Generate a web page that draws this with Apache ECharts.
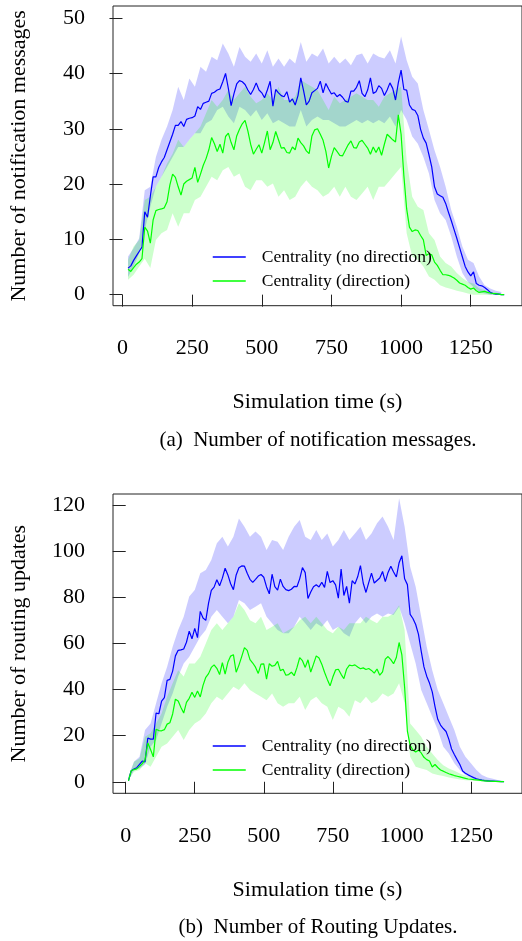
<!DOCTYPE html>
<html lang="en">
<head>
<meta charset="UTF-8">
<title>Notification messages and routing updates</title>
<style>
  body { margin: 0; overflow: hidden; background: #fff; }
  #chart { width: 522px; height: 941px; }
</style>
</head>
<body>
<div id="chart"></div>
<script src="https://cdn.jsdelivr.net/npm/echarts@6/dist/echarts.min.js"></script>
<script>
// evenly spaced sampling times (s)
function steps(from, to, by) {
    var a = [];
    for (var t = from; t <= to; t += by) a.push(t);
    return a;
}

var seriesNames = ['Centrality (no direction)', 'Centrality (direction)'];

// ---- (a) notification messages ----
var timeA = steps(20, 1370, 10);
var blueA = [4.8,5.2,6.2,7.0,7.8,8.6,15.0,14.0,17.8,21.3,
    21.3,23,24,24.8,26.2,27.6,29,30.6,30.6,31.3,
    30.4,31.7,31.9,32,32.3,34,33.5,34.6,34.8,35,
    36.4,36.6,37,37.2,38.5,40,37.3,34.2,36.3,38.1,
    38.7,38.5,38,37,36.2,37.1,38.3,37,36.5,35.6,
    37,38.6,34.1,37.1,36.5,36,35.8,36.7,34.8,35.4,
    34.3,36,39.2,36.9,34.3,35,36.5,36.9,37.3,38.6,
    36.5,38.2,37.2,36.3,36.5,35.8,36.2,35.7,35,34.8,
    36.8,36.8,37.5,38.7,36.4,35.8,37,39.2,36.4,36.7,
    37.8,37.3,36,37,38.3,37.3,35.2,38.3,40.6,37.1,
    37,34.3,33.5,33.3,32.4,29.9,28.3,27.4,25.3,23.1,
    19.5,18.2,17.9,17.6,16.5,14.9,13.4,11.8,10.2,8.5,
    6.8,5.1,4.1,3.4,4.1,2,1.7,1.6,1.3,0.9,
    0.4,0.2,0.1,0.1,0,0];
var greenA = [4.6,4.2,4.9,5.5,5.9,6.5,12.2,11.5,9.3,13.5,
    15.2,15.4,15.5,15.7,16.8,19.8,21.8,21.2,19.5,18,
    20,20.5,20.8,21.1,23,20.3,21.8,23.4,24.6,26.2,
    28.4,27.3,25.9,27.2,25.6,28.6,29.2,27.5,26.2,28.7,
    29.9,30.9,31.5,29.6,27.2,25.4,26.3,27.1,25.6,27.5,
    29.6,26.2,27.5,29.5,28,26.5,26.6,25.7,25.6,26.7,
    26.2,28.3,27.5,26.9,26,25.5,28.7,29.8,30,29,
    27.9,25.9,22.9,25,26.6,25.9,25.2,25.1,26.1,27.1,
    27.8,26.6,26.5,27.6,27.9,27.2,26.5,25.4,26.7,25.7,
    26.7,25.2,27.2,29,28.5,28,27.6,32.5,29,21.5,
    15.5,12.2,11.4,11.7,11.6,10.7,9.9,7.1,7.4,7.2,
    5.9,5.3,4.4,3.6,3.6,3.5,3.3,3,2.6,2.1,
    1.9,1.7,1.3,1,1.2,0.7,0.4,0.5,0.6,0.4,
    0.3,0.2,0.2,0.1,0,0];
var bandTimeA = steps(20, 1360, 20);
var blueHiA = [6.9,8.4,10.2,18.9,19.5, 24.9,28,30.4,33.4,37.6, 35.2,39.1,37.6,41.2,40.3,
    43,42.4,45.4,43.6,41.2, 44.8,43,42.1,43.6,41.8, 44.2,41.2,42.7,41.2,42.7,
    41.8,45.7,42.1,43.6,43, 44.5,41.8,43,41.8,42.7, 41.5,43.3,43.6,41.8,43.6,
    43,42.7,44.2,41.8,46.7, 42.4,39.4,38.2,33.4,29.8, 26.1,23.1,19.5,15.3,12.3,
    8.7,6.3,5.7,3.3,1.7, 1.1,0.7,0.5];
var blueLoA = [3.2,5.1,7.5,11.7,15.9, 19.5,21.3,23.1,24.9,26.7, 26.7,28,29.2,29.2,31,
    31.6,33.4,34,32.2,31, 34,33.4,32.2,33.4,31.6, 32.8,31,31.6,31,30.4,
    30.4,33.4,30.4,31.6,32.2, 31.6,31.6,31,30.4,30.4, 31,31.6,31,31.6,31,
    31.6,31,32.2,30.4,33.4, 31.6,28.6,27.3,24.9,21.9, 17.1,14.7,13.5,10.5,6.9,
    3.9,2.3,1.4,0.5,0.2, 0,0,0];
var greenHiA = [6.3,8.7,9.9,17.1,17.7, 19.5,21.3,23.7,25.5,28, 26.7,28,29.2,30.4,32.8,
    35.2,34,35.2,37,35.2, 36.4,37.6,35.8,34.6,35.2, 36.4,35.2,37.6,35.2,35.2,
    35.8,38.8,38.2,37.6,37, 35.2,33.4,35.8,34.6,35.2, 35.8,36.4,35.8,35.2,35.2,
    34,35.8,36.4,37,37.6, 24.3,17.7,15.9,15.3,11.1, 9.9,6.9,5.7,5.1,3.9,
    3,2.3,2,1.1,0.8, 0.5,0.4,0.1];
var greenLoA = [2.7,3.6,5.1,6.5,4.8, 9.9,11.1,11.7,14.7,12.3, 14.7,14.7,17.1,17.7,19.5,
    21.3,20.7,22.5,23.1,21.3, 21.9,19.5,18.9,20.7,20.7, 19.5,20.1,17.7,18.9,17.1,
    17.7,19.5,20.7,19.5,18.9, 17.7,18.3,19.5,17.7,19.5, 17.7,17.1,18.3,19.5,17.1,
    19.5,19.5,20.7,21.9,23.1, 11.1,6.9,6.3,5.1,3.3, 2.7,1.7,1.3,1,0.7,
    0.5,0.2,0,0,0, 0,0,0];
var xTicksA = [0, 250, 500, 750, 1000, 1250];
var yTicksA = [0, 10, 20, 30, 40, 50];

// ---- (b) routing updates ----
var timeB = steps(10, 1370, 10);
var blueB = [0.4,4.8,5.5,6.1,7.5,9,8.6,19,18.5,18.5,
    29.8,29.5,35,36.5,44,44.4,48,54.6,57,57.2,
    57.6,60.5,65.3,62,66.5,62.5,73.9,71,70,77.5,
    83,84.4,87.6,85,88.3,92.6,89.7,85.9,83.3,89.7,
    92.8,93.6,93.5,90.4,87.8,86.5,87.8,89.2,89.9,88.7,
    84.5,81.5,90,84.6,83.1,87.9,84.7,83.3,82.9,83.5,
    84.7,84.6,88,92.9,90.7,79.5,82.3,84.6,85.4,84.5,
    86.5,84.3,91.2,86.4,87.2,85.4,79.6,92.3,80.8,84.7,
    77.5,87.2,85.8,88.9,93.7,86.2,82.1,86.4,90.5,86.2,
    87.3,88.4,91.2,86.8,90.8,93.5,91,88.8,95,98,
    88,85.5,72.6,70.8,68.2,64,56.7,49.8,45.8,42.8,
    39,32.6,27.1,24.6,23.1,21.8,18.5,14.2,11.8,9.6,
    7.5,4.7,3.7,3,2.4,1.8,1.3,1,0.7,0.5,
    0.4,0.3,0.3,0.2,0.2,0.1,0.1];
var greenB = [0.4,4.8,5.3,5.6,6.7,7.9,9.5,16.8,14,10.8,
    22.8,22.2,22.1,22.6,25,25.6,29.4,35.8,35,32.2,
    29.8,34.4,36.2,38.8,36.6,39.4,36.8,41.8,45.3,46.9,
    49.6,50.7,49.2,46.5,51.7,46.7,51.8,54.5,55.1,47.5,
    50.6,54.3,58.2,57,53,51.5,49.7,47,51,51.1,
    44.5,51.2,50.1,50.5,52.2,48.2,48.8,46.2,46.5,47.5,
    46,49.5,53.8,52.5,49.6,52.9,47.6,51,54.6,53.7,
    51,47.5,44.4,41.6,45.4,48.5,48.8,46.6,44.7,48.9,
    50.6,50.3,50.7,49.8,49,49.4,48.7,49.1,48.3,47.1,
    48.9,46.2,47.7,53.2,54.3,53,51.2,53.9,60.4,55,
    40.9,22,15.8,13.8,12.9,13.7,12.5,10.6,9.6,9,
    6.4,7.5,6.2,5.1,4.6,4,3.5,3.1,2.7,2.4,
    2.1,1.8,1.5,1.2,1.1,0.9,0.8,0.7,0.5,0.4,
    0.3,0.3,0.2,0.2,0.1,0.1,0.1];
var bandTimeB = steps(10, 1370, 20);
var blueHiB = [2.2,8.7,10.8,22.4,25.3, 34,42.7,49.9,58.6,65.8, 71.6,80.3,83.2,90.4,91.8,
    96.2,103.4,106.3,102,106.3, 114.2,110.6,106.3,108.5,106.3, 100.5,104.8,104.1,100.5,106.3,
    110.6,113.5,106.3,104.8,109.2, 104.8,107.7,102,104.8,109.2, 104.8,107.7,110.6,104.8,107.7,
    112.1,115,110.6,104.8,123, 110.6,93.3,84.6,71.6,58.6, 48.4,39.8,34,28.2,22.4,
    15.2,10.8,8,5.1,2.9, 1.9,1.3,0.7,0.3];
var blueLoB = [0.7,5.1,5.8,7.5,15.2, 18.1,25.3,32.5,38.3,45.6, 51.3,54.2,58.6,62.9,65.8,
    71.6,74.5,71.6,68.7,71.6, 78.8,77.4,74.5,75.9,77.4, 71.6,68.7,65.8,64.4,64.4,
    67.2,71.6,68.7,65.8,68.7, 67.2,70.1,65.8,67.2,64.4, 62.9,68.7,71.6,68.7,71.6,
    73,71.6,73,72.3,75.9, 68.7,60,51.3,39.8,34, 28.2,22.4,15.2,12.3,8,
    5.1,2.9,1.9,1,0.4, 0.1,0.1,0.1,0.1];
var greenHiB = [2.2,8.7,10.1,19.5,21, 25.3,29.6,36.9,42.7,48.4, 45.6,51.3,51.3,54.2,60,
    65.8,68.7,65.8,68.7,71.6, 77.4,74.5,70.1,68.7,71.6, 65.8,67.2,68.7,64.4,65.8,
    67.2,70.1,71.6,68.7,71.6, 68.7,65.8,64.4,67.2,65.8, 68.7,68.7,68.7,71.6,70.1,
    68.7,71.6,71.6,73,76.6, 65.8,25.3,22.4,19.5,15.2, 12.3,9.4,7.2,5.8,4.8,
    3.6,2.7,2.2,1.6,1.2, 0.9,0.6,0.4,0.3];
var greenLoB = [0.7,4.3,5.1,8,6.5, 10.8,15.2,16.6,19.5,22.4, 18.1,22.4,25.3,26.8,29.6,
    34,36.9,35.4,38.3,41.2, 39.8,42.7,39.8,38.3,36.9, 35.4,38.3,34,32.5,34,
    34,36.9,31.1,35.4,36.9, 34,32.5,26.8,32.5,31.1, 28.2,35.4,34,36.9,34,
    35.4,38.3,36.9,38.3,42.7, 34,10.8,6.5,5.8,5.1, 3.6,2.9,2.5,1.9,1.4,
    1,0.7,0.5,0.3,0.2, 0.1,0.1,0.1,0.1];
var xTicksB = [0, 250, 500, 750, 1000, 1250];
var yTicksB = [0, 20, 40, 60, 80, 100, 120];

var FONT = '"Liberation Serif", "DejaVu Serif", serif';
var BLUE = '#0000ff', GREEN = '#00ff00';

function band(g, times, lo, hi, fill) {
    return {
        type: 'custom',
        xAxisIndex: g, yAxisIndex: g,
        silent: true, z: 1,
        data: times.map(function (t, i) { return [t, lo[i], hi[i]]; }),
        encode: { x: 0, y: [1, 2] },
        renderItem: function (params, api) {
            if (params.dataIndex !== 0) return null;
            var top = [], bottom = [];
            for (var i = 0; i < times.length; i++) {
                top.push(api.coord([times[i], hi[i]]));
                bottom.unshift(api.coord([times[i], lo[i]]));
            }
            return { type: 'polygon', shape: { points: top.concat(bottom) }, style: { fill: fill } };
        }
    };
}

function meanLine(g, name, times, vals, color) {
    return {
        type: 'line', name: name,
        xAxisIndex: g, yAxisIndex: g,
        symbol: 'none', showSymbol: false, z: 3,
        data: times.map(function (t, i) { return [t, vals[i]]; }),
        lineStyle: { color: color, width: 1.2 },
        itemStyle: { color: color }
    };
}

// plain numbers, no thousands separator
function plain(v) { return String(v); }

function xAxis(g, min, max, ticks) {
    return {
        type: 'value', gridIndex: g, min: min, max: max, offset: 2,
        axisLine: { show: false },
        axisTick: { length: 12, customValues: ticks, lineStyle: { color: '#222' } },
        axisLabel: { customValues: ticks, formatter: plain, margin: 30, fontSize: 22, fontFamily: FONT, color: '#000' },
        splitLine: { show: false },
        name: 'Simulation time (s)', nameLocation: 'middle', nameGap: 84,
        nameTextStyle: { fontSize: 22, fontFamily: FONT, color: '#000' }
    };
}

function yAxis(g, min, max, ticks, title) {
    return {
        type: 'value', gridIndex: g, min: min, max: max,
        axisLine: { show: false },
        axisTick: { length: 13, customValues: ticks, lineStyle: { color: '#222' } },
        axisLabel: { customValues: ticks, formatter: plain, margin: 28, fontSize: 22, fontFamily: FONT, color: '#000' },
        splitLine: { show: false },
        name: title, nameLocation: 'middle', nameGap: 83, nameRotate: 90,
        nameTextStyle: { fontSize: 22, fontFamily: FONT, color: '#000' }
    };
}

// line-only keys: symbol hidden, only the line part of the icon stays
function legend(top) {
    return {
        data: seriesNames, orient: 'vertical', left: 212, top: top, padding: 0,
        itemWidth: 33, itemHeight: 14, itemGap: 6,
        itemStyle: { opacity: 0 },
        lineStyle: { width: 1.5 },
        textStyle: { fontSize: 17.5, fontFamily: FONT, color: '#000', padding: [0, 0, 0, 11] }
    };
}

var myChart = echarts.init(document.getElementById('chart'));
var option = {
    animation: false,
    backgroundColor: '#fff',
    grid: [
        { left: 111, top: 6, width: 417, height: 299.7, show: true, borderColor: '#222', borderWidth: 1 },
        { left: 111, top: 494, width: 417, height: 299.3, show: true, borderColor: '#222', borderWidth: 1 }
    ],
    xAxis: [xAxis(0, -34, 1434, xTicksA), xAxis(1, -46, 1435, xTicksB)],
    yAxis: [
        yAxis(0, -2, 52.2, yTicksA, 'Number of notification messages'),
        yAxis(1, -5, 124.8, yTicksB, 'Number of routing updates')
    ],
    legend: [legend(248), legend(737)],
    graphic: [
        { type: 'text', x: 318, y: 440, style: { text: '(a)  Number of notification messages.', align: 'center', verticalAlign: 'middle', fontSize: 21, fontFamily: FONT, fill: '#000' } },
        { type: 'text', x: 318, y: 927, style: { text: '(b)  Number of Routing Updates.', align: 'center', verticalAlign: 'middle', fontSize: 21, fontFamily: FONT, fill: '#000' } }
    ],
    series: [
        band(0, bandTimeA, blueLoA, blueHiA, 'rgba(0,0,255,0.2)'),
        band(0, bandTimeA, greenLoA, greenHiA, 'rgba(0,255,0,0.2)'),
        meanLine(0, seriesNames[0], timeA, blueA, BLUE),
        meanLine(0, seriesNames[1], timeA, greenA, GREEN),
        band(1, bandTimeB, blueLoB, blueHiB, 'rgba(0,0,255,0.2)'),
        band(1, bandTimeB, greenLoB, greenHiB, 'rgba(0,255,0,0.2)'),
        meanLine(1, seriesNames[0], timeB, blueB, BLUE),
        meanLine(1, seriesNames[1], timeB, greenB, GREEN)
    ]
};
myChart.setOption(option);
</script>
</body>
</html>
